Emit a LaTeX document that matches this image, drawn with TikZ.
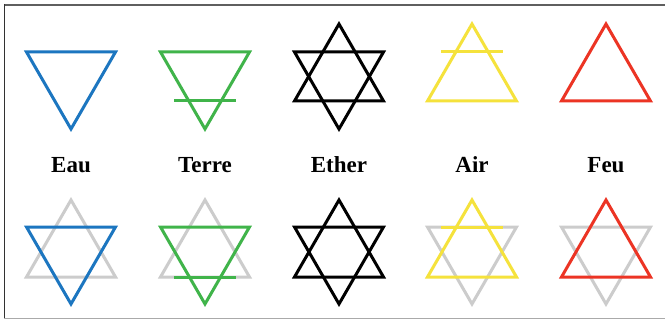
\documentclass[tikz,border=0pt]{standalone}
\usepackage{fontspec}
\setmainfont{Liberation Serif}
\definecolor{eblue}{RGB}{28,118,192}
\definecolor{egreen}{RGB}{64,180,74}
\definecolor{eyellow}{RGB}{245,226,60}
\definecolor{ered}{RGB}{236,52,36}
\definecolor{egray}{RGB}{204,204,204}
\definecolor{framedark}{RGB}{95,95,95}
\definecolor{frameleft}{RGB}{50,50,50}
\definecolor{framelight}{RGB}{170,170,170}
\tikzset{
  tridown/.pic={\draw (-44.5,0) -- (44.5,0) -- (0,77) -- cycle;},
  triup/.pic={\draw (0,0) -- (44.5,77) -- (-44.5,77) -- cycle;},
  barline/.pic={\draw (-31,0) -- (31,0);},
  lbl/.style={font=\fontsize{23}{26}\selectfont\bfseries, inner sep=0pt},
  sym/.style={line width=3pt, line join=miter}
}
\begin{document}
\begin{tikzpicture}[x=1pt,y=-1pt]
\useasboundingbox (0,0) rectangle (665,321);
\fill[white] (0,0) rectangle (665,321);
% frame
\draw[framedark, line width=2pt] (4,5) -- (665,5);
\draw[frameleft, line width=1.5pt] (4.5,4) -- (4.5,319);
\draw[framelight, line width=1.5pt] (4,318.5) -- (665,318.5);
% top row
\begin{scope}[sym]
\pic[color=eblue] at (71,52) {tridown};
\pic[color=egreen] at (205,52) {tridown};
\pic[color=egreen] at (205,101) {barline};
\pic[color=black] at (339,52) {tridown};
\pic[color=black] at (339,24) {triup};
\pic[color=eyellow] at (472,24) {triup};
\pic[color=eyellow] at (472,52) {barline};
\pic[color=ered] at (606,24) {triup};
\end{scope}
% labels
\node[lbl] (eau) at (71,165) {Eau};
\node[lbl] (terre) at (205,165) {Terre};
\node[lbl] (ether) at (339,165) {Ether};
\node[lbl] (air) at (472,165) {Air};
\node[lbl] (feu) at (606,165) {Feu};
% bottom row
\begin{scope}[sym]
\pic[color=egray] at (71,200) {triup};
\pic[color=eblue] at (71,227) {tridown};
\pic[color=egray] at (205,200) {triup};
\pic[color=egreen] at (205,227) {tridown};
\pic[color=egreen] at (205,277) {barline};
\pic[color=black] at (339,227) {tridown};
\pic[color=black] at (339,200) {triup};
\pic[color=egray] at (472,227) {tridown};
\pic[color=eyellow] at (472,200) {triup};
\pic[color=eyellow] at (472,227) {barline};
\pic[color=egray] at (606,227) {tridown};
\pic[color=ered] at (606,200) {triup};
\end{scope}
\end{tikzpicture}
\end{document}
